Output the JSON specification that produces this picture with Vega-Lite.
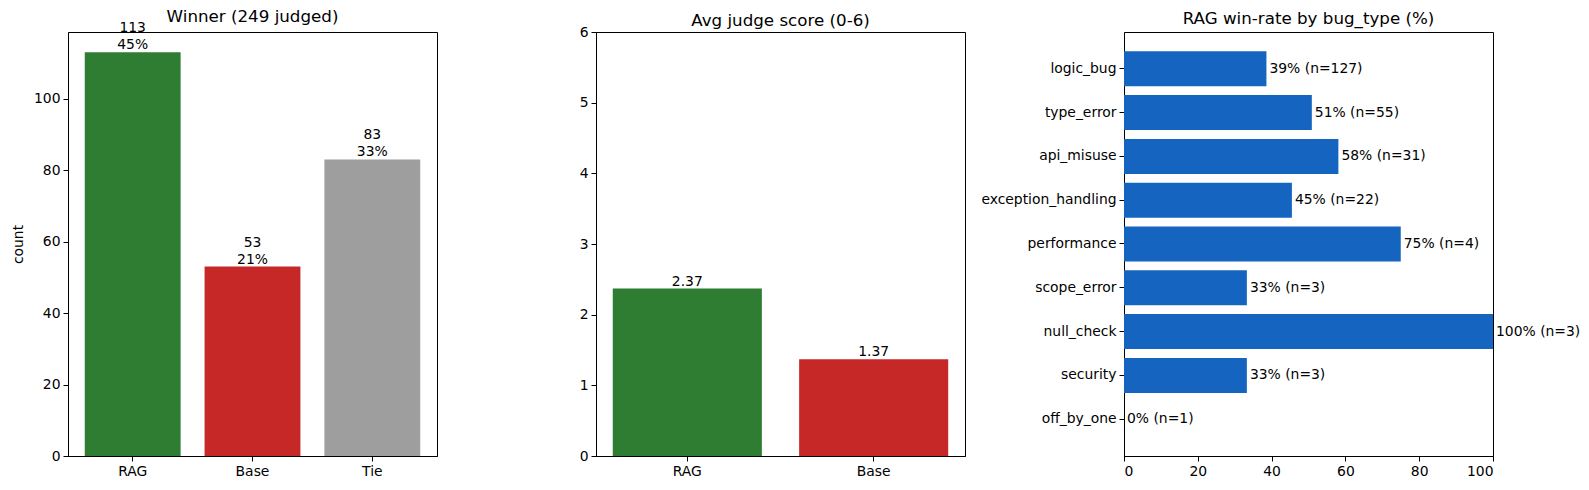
{
  "$schema": "https://vega.github.io/schema/vega-lite/v6.json",
  "padding": {"left": 10, "top": 8, "right": 5, "bottom": 5},
  "background": "white",
  "config": {
    "font": "DejaVu Sans",
    "view": {"stroke": "black", "strokeWidth": 1},
    "axis": {
      "grid": false,
      "domainColor": "black",
      "domainWidth": 1,
      "tickColor": "black",
      "tickWidth": 1,
      "tickSize": 5,
      "labelFontSize": 13.9,
      "labelColor": "black",
      "labelPadding": 3,
      "titleFontSize": 13.9,
      "titleFontWeight": "normal",
      "titleColor": "black"
    },
    "title": {"fontSize": 16.7, "fontWeight": "normal", "color": "black", "offset": -5, "frame": "group", "anchor": "middle"}
  },
  "bounds": "flush",
  "spacing": 159,
  "hconcat": [
    {
      "width": 369,
      "height": 424,
      "title": "Winner (249 judged)",
      "data": {"values": [
        {"winner": "RAG", "count": 113, "label": "113\n45%"},
        {"winner": "Base", "count": 53, "label": "53\n21%"},
        {"winner": "Tie", "count": 83, "label": "83\n33%"}
      ]},
      "encoding": {
        "x": {"field": "winner", "type": "nominal", "sort": null,
              "scale": {"paddingInner": 0.2, "paddingOuter": 0.14},
              "axis": {"title": null, "labelAngle": 0}},
        "y": {"field": "count", "type": "quantitative",
              "scale": {"domain": [0, 118.65], "nice": false},
              "axis": {"title": "count", "values": [0, 20, 40, 60, 80, 100], "titlePadding": 8, "minExtent": 35, "maxExtent": 35}}
      },
      "layer": [
        {"mark": {"type": "bar"},
         "encoding": {"color": {"field": "winner", "type": "nominal",
           "scale": {"domain": ["RAG", "Base", "Tie"], "range": ["#2e7d32", "#c62828", "#9e9e9e"]},
           "legend": null}}},
        {"mark": {"type": "text", "baseline": "bottom", "lineBreak": "\n", "fontSize": 13.9, "color": "black", "lineHeight": 17, "dy": -17},
         "encoding": {"text": {"field": "label"}}}
      ]
    },
    {
      "width": 369,
      "height": 424,
      "title": "Avg judge score (0-6)",
      "data": {"values": [
        {"model": "RAG", "score": 2.37, "label": "2.37"},
        {"model": "Base", "score": 1.37, "label": "1.37"}
      ]},
      "encoding": {
        "x": {"field": "model", "type": "nominal", "sort": null,
              "scale": {"paddingInner": 0.2, "paddingOuter": 0.09},
              "axis": {"title": null, "labelAngle": 0}},
        "y": {"field": "score", "type": "quantitative",
              "scale": {"domain": [0, 6], "nice": false},
              "axis": {"title": null, "values": [0, 1, 2, 3, 4, 5, 6]}}
      },
      "layer": [
        {"mark": {"type": "bar"},
         "encoding": {"color": {"field": "model", "type": "nominal",
           "scale": {"domain": ["RAG", "Base"], "range": ["#2e7d32", "#c62828"]},
           "legend": null}}},
        {"mark": {"type": "text", "baseline": "bottom", "fontSize": 13.9, "color": "black"},
         "encoding": {"text": {"field": "label"}}}
      ]
    },
    {
      "width": 369,
      "height": 424,
      "title": {"text": "RAG win-rate by bug_type (%)", "offset": 4},
      "data": {"values": [
        {"bug_type": "logic_bug", "rate": 38.6, "label": "39% (n=127)"},
        {"bug_type": "type_error", "rate": 50.9, "label": "51% (n=55)"},
        {"bug_type": "api_misuse", "rate": 58.1, "label": "58% (n=31)"},
        {"bug_type": "exception_handling", "rate": 45.5, "label": "45% (n=22)"},
        {"bug_type": "performance", "rate": 75, "label": "75% (n=4)"},
        {"bug_type": "scope_error", "rate": 33.3, "label": "33% (n=3)"},
        {"bug_type": "null_check", "rate": 100, "label": "100% (n=3)"},
        {"bug_type": "security", "rate": 33.3, "label": "33% (n=3)"},
        {"bug_type": "off_by_one", "rate": 0, "label": "0% (n=1)"}
      ]},
      "encoding": {
        "y": {"field": "bug_type", "type": "nominal", "sort": null,
              "scale": {"paddingInner": 0.2, "paddingOuter": 0.44},
              "axis": {"title": null}},
        "x": {"field": "rate", "type": "quantitative",
              "scale": {"domain": [0, 100], "nice": false},
              "axis": {"title": null, "values": [0, 20, 40, 60, 80, 100]}}
      },
      "layer": [
        {"mark": {"type": "bar", "color": "#1565c0"}},
        {"mark": {"type": "text", "align": "left", "baseline": "middle", "dx": 3, "fontSize": 13.9, "color": "black"},
         "encoding": {"text": {"field": "label"}}}
      ]
    }
  ]
}
